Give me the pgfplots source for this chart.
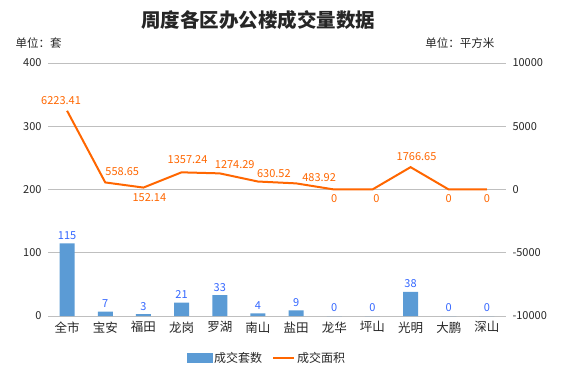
\documentclass[border=0pt]{standalone}
\usepackage{fontspec}
\setmainfont{Noto Sans CJK SC}
\usepackage{pgfplots}
\usepackage{pgfplotstable}
\pgfplotsset{compat=1.18}
\definecolor{barc}{HTML}{5B9BD5}
\definecolor{linec}{HTML}{FF6600}
\definecolor{gridc}{HTML}{BFBFBF}
\definecolor{labc}{HTML}{3366FF}
\definecolor{txtc}{HTML}{262626}
\pgfplotstableread{
x y
0 115
1 7
2 3
3 21
4 33
5 4
6 9
7 0
8 0
9 38
10 0
11 0
}\bars
\pgfplotstableread{
x y lab dx dy
0 6223.41 6223.41 -6 10
1 558.65 558.65 17 11
2 152.14 152.14 6 -10
3 1357.24 1357.24 6 13
4 1274.29 1274.29 15 9
5 630.52 630.52 16 8
6 483.92 483.92 23 6
7 0 0 0 -9
8 0 0 4 -9
9 1766.65 1766.65 6 11
10 0 0 0 -9
11 0 0 0 -9
}\area
\begin{document}
\begin{tikzpicture}[x=1pt,y=1pt]
\path[use as bounding box] (0,0) rectangle (576,370);
\begin{axis}[
  at={(48pt,54pt)}, anchor=south west, scale only axis,
  width=458pt, height=253pt,
  xmin=-0.5, xmax=11.5, ymin=0, ymax=400,
  ytick={0,100,200,300,400},
  xtick=data,
  xticklabels={全市,宝安,福田,龙岗,罗湖,南山,盐田,龙华,坪山,光明,大鹏,深山},
  ymajorgrids, grid style={draw=gridc, line width=0.9pt},
  axis line style={draw=none}, tick style={draw=none},
  ticklabel style={font=\fontsize{11}{13}\selectfont, text=txtc},
  x tick label style={font=\fontsize{12.5}{14}\selectfont, yshift=-2pt},
  yticklabel style={xshift=-3pt},
  /pgf/number format/assume math mode=true,
  clip=false,
]
\addplot[ybar, bar width=15pt, fill=barc, draw=none,
  nodes near coords,
  every node near coord/.append style={font=\fontsize{11}{13}\selectfont, text=labc, anchor=center, yshift=8pt}]
  table[x=x,y=y]{\bars};
\end{axis}
\begin{axis}[
  at={(48pt,54pt)}, anchor=south west, scale only axis,
  width=458pt, height=253pt,
  xmin=-0.5, xmax=11.5, ymin=-10000, ymax=10000,
  ytick={-10000,-5000,0,5000,10000},
  scaled y ticks=false,
  axis y line*=right, axis x line=none,
  axis line style={draw=none}, tick style={draw=none},
  ticklabel style={font=\fontsize{11}{13}\selectfont, text=txtc},
  yticklabel style={xshift=3pt},
  /pgf/number format/assume math mode=true,
  /pgf/number format/1000 sep={},
  clip=false,
  legend columns=2,
  legend style={at={(0.478,-0.166)}, anchor=center, draw=none, fill=none,
    font=\fontsize{12}{14}\selectfont, text=txtc,
    /tikz/every even column/.append style={column sep=8pt}},
]
\addlegendimage{legend image code/.code={\fill[barc] (-2pt,-4.5pt) rectangle (23pt,4.5pt);}}
\addlegendentry{成交套数}
\addplot[color=linec, line width=2pt, mark=none,
  legend image code/.code={\draw[linec, line width=2pt] (0pt,0pt) -- (21pt,0pt);},
  point meta=explicit symbolic,
  visualization depends on={\thisrow{dx} \as \dx},
  visualization depends on={\thisrow{dy} \as \dy},
  nodes near coords,
  every node near coord/.append style={font=\fontsize{11}{13}\selectfont, text=linec, anchor=center, xshift=\dx pt, yshift=\dy pt}]
  table[x=x,y=y,meta=lab]{\area};
\addlegendentry{成交面积}
\end{axis}
\node[font=\fontsize{19.5}{22}\selectfont\bfseries, text=txtc] at (258,350) {周度各区办公楼成交量数据};
\node[font=\fontsize{11.5}{13}\selectfont, text=txtc, anchor=west] at (12,327) {单位：套};
\node[font=\fontsize{11.5}{13}\selectfont, text=txtc, anchor=east] at (498,327) {单位：平方米};
\end{tikzpicture}
\end{document}
